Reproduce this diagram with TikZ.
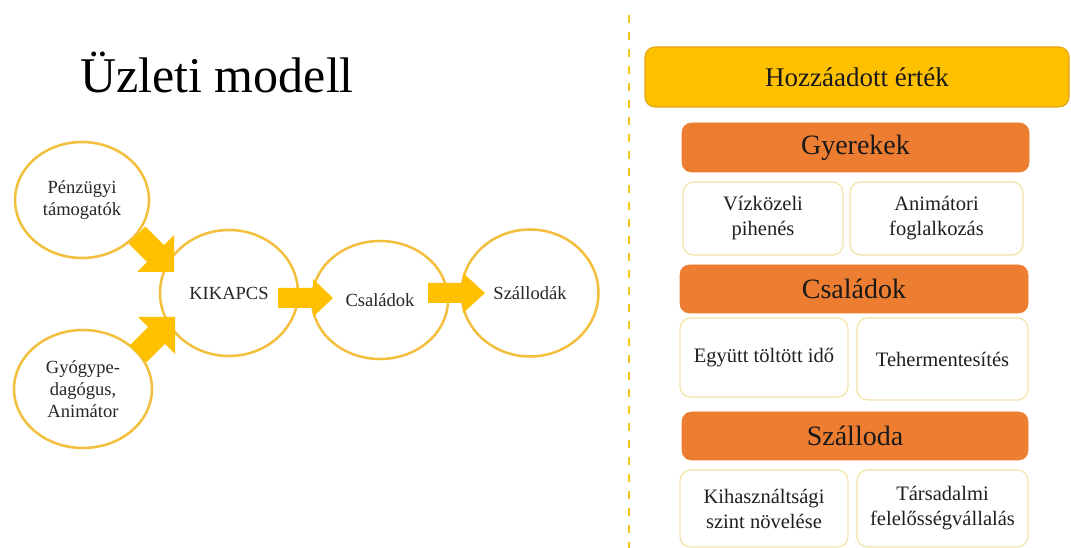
\documentclass[tikz,border=0pt]{standalone}
\usepackage{fontspec}
\setmainfont{Liberation Serif}
\usetikzlibrary{shapes.geometric,calc}
\definecolor{circcol}{RGB}{242,192,62}
\definecolor{arrcol}{RGB}{255,192,0}
\definecolor{goldcol}{RGB}{255,192,0}
\definecolor{goldedge}{RGB}{226,165,20}
\definecolor{orngcol}{RGB}{237,125,49}
\definecolor{palecol}{RGB}{242,228,165}
\definecolor{dashcol}{RGB}{246,198,30}
\definecolor{txtcol}{RGB}{38,38,38}
\newcommand{\blkarrow}[5]{%
  \coordinate (hb) at ($(#2)!#5!(#1)$);
  \fill[arrowfill] ($(#1)!#3!90:(#2)$) -- ($(hb)!#3!90:(#2)$) -- ($(hb)!#4!90:(#2)$) -- (#2)
    -- ($(hb)!#4!-90:(#2)$) -- ($(hb)!#3!-90:(#2)$) -- ($(#1)!#3!-90:(#2)$) -- cycle;}
\begin{document}
\begin{tikzpicture}[x=0.75pt,y=-0.75pt,
  bubble/.style={ellipse, draw=circcol, line width=1.9pt, fill=white, inner sep=0pt, align=center,
    text=txtcol, font=\fontsize{13.9}{16.5}\selectfont},
  arrowfill/.style={fill=arrcol},
  topbox/.style={rectangle, rounded corners=7.5pt, fill=goldcol, draw=goldedge, line width=0.8pt,
    inner sep=0pt, font=\fontsize{20.25}{24}\selectfont, text=black!90},
  hdr/.style={rectangle, rounded corners=7pt, fill=orngcol, draw=orngcol, inner sep=0pt,
    font=\fontsize{21}{25}\selectfont, text=black!90},
  sub/.style={rectangle, rounded corners=8pt, draw=palecol, line width=0.9pt, fill=white, inner sep=0pt,
    align=center, font=\fontsize{15.4}{18.75}\selectfont, text=black!88},
  divider/.style={draw=dashcol, line width=1.9pt, dash pattern=on 6pt off 6.75pt}
]
\useasboundingbox (0,0) rectangle (1071,548);

% title
\node[anchor=base west, inner sep=0pt, font=\fontsize{37.5}{45}\selectfont] (title) at (80,93) {Üzleti modell};

% circles
\node[bubble, minimum width=100.5pt, minimum height=87pt] (pen) at (82,200) {Pénzügyi\\támogatók};
\node[bubble, minimum width=103.5pt, minimum height=88.5pt] (gyo) at (83,389) {Gyógype-\\dagógus,\\Animátor};
\node[bubble, minimum width=103.5pt, minimum height=94.5pt] (kik) at (229,293) {KIKAPCS};
\node[bubble, minimum width=102pt, minimum height=88.5pt] (csa) at (380,300) {Családok};
\node[bubble, minimum width=102.75pt, minimum height=95.25pt] (sza) at (530,293) {Szállodák};

% block arrows
\coordinate (s1) at (137,235); \coordinate (t1) at (174,272);
\coordinate (s2) at (138,354); \coordinate (t2) at (175,317);
\coordinate (s3) at (278,298); \coordinate (t3) at (333,298);
\coordinate (s4) at (428,293); \coordinate (t4) at (485,293);
\blkarrow{s1}{t1}{9pt}{19.5pt}{19.5pt}
\blkarrow{s2}{t2}{9pt}{19.5pt}{19.5pt}
\blkarrow{s3}{t3}{7.5pt}{14.25pt}{15pt}
\blkarrow{s4}{t4}{7.5pt}{15pt}{16.5pt}

% divider
\coordinate (dtop) at (629,15); \coordinate (dbot) at (629,548);
\draw[divider] (dtop) -- (dbot);

% right panel
\node[topbox, minimum width=318pt, minimum height=45pt] (hoz) at (857,77) {Hozzáadott érték};
\node[hdr, minimum width=260.25pt, minimum height=36.75pt] (gye) at (855.5,147.5) {Gyerekek};
\node[sub, minimum width=120pt, minimum height=54.75pt] (viz) at (763,218.5) {Vízközeli\\pihenés};
\node[sub, minimum width=129.75pt, minimum height=54.75pt] (ani) at (936.5,218.5) {Animátori\\foglalkozás};
\node[hdr, minimum width=261pt, minimum height=36pt] (csh) at (854,289) {Családok};
\node[sub, minimum width=126pt, minimum height=59.25pt] (egy) at (764,357.5) {Együtt töltött idő};
\node[sub, minimum width=128.25pt, minimum height=61.5pt] (teh) at (942.5,359) {Tehermentesítés};
\node[hdr, minimum width=259.5pt, minimum height=36pt] (szh) at (855,436) {Szálloda};
\node[sub, minimum width=126pt, minimum height=57.75pt] (kih) at (764,508.5) {Kihasználtsági\\szint növelése};
\node[sub, minimum width=128.25pt, minimum height=57.75pt] (tar) at (942.5,508.5) {Társadalmi\\felelősségvállalás};
\end{tikzpicture}
\end{document}
